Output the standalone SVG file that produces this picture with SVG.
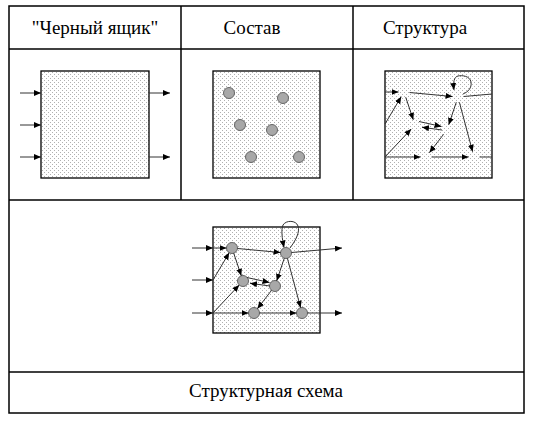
<svg xmlns="http://www.w3.org/2000/svg" width="535" height="427" viewBox="0 0 535 427">
<defs>
<pattern id="dots" width="4" height="4" patternUnits="userSpaceOnUse">
<rect width="4" height="4" fill="#ffffff"/>
<rect x="0" y="0" width="1" height="1" fill="#b0b0b0"/>
<rect x="2" y="2" width="1" height="1" fill="#b0b0b0"/>
</pattern>
<marker id="ah" markerUnits="userSpaceOnUse" markerWidth="8" markerHeight="6" refX="7" refY="3" orient="auto">
<path d="M0,0 L7,3 L0,6 Z" fill="#000"/>
</marker>
<style>
.grid{fill:none;stroke:#000;stroke-width:1.5}
.box{fill:url(#dots);stroke:#000;stroke-width:1.3}
.t{font-family:"Liberation Serif",serif;font-size:19px;fill:#000;text-anchor:middle}
.c{stroke:#333;stroke-width:1;fill:none}
.a{marker-end:url(#ah)}
.n{fill:#a8a8a8;stroke:#666;stroke-width:1}
</style>
</defs>

<g id="table">
<rect class="grid" x="9" y="6" width="515" height="407"/>
<line class="grid" x1="9" y1="49" x2="524" y2="49"/>
<line class="grid" x1="9" y1="200" x2="524" y2="200"/>
<line class="grid" x1="9" y1="372" x2="524" y2="372"/>
<line class="grid" x1="181" y1="6" x2="181" y2="200"/>
<line class="grid" x1="353" y1="6" x2="353" y2="200"/>
</g>

<g id="headers">
<text class="t" x="95" y="34">"Черный ящик"</text>
<text class="t" x="252" y="34">Состав</text>
<text class="t" x="425" y="34">Структура</text>
<text class="t" x="266" y="397">Структурная схема</text>
</g>

<g id="blackbox">
<rect class="box" x="41" y="71" width="108" height="107"/>
</g>

<g id="composition">
<rect class="box" x="213" y="71" width="107" height="107"/>
<circle class="n" cx="229" cy="93" r="5.5"/>
<circle class="n" cx="283" cy="98" r="5.5"/>
<circle class="n" cx="240" cy="125" r="5.5"/>
<circle class="n" cx="272" cy="130" r="5.5"/>
<circle class="n" cx="251" cy="157" r="5.5"/>
<circle class="n" cx="299" cy="157" r="5.5"/>
</g>

<g id="structure">
<rect class="box" x="385" y="71" width="107" height="107"/>
</g>

<g id="scheme">
<rect class="box" x="213" y="227" width="107" height="106"/>
<circle class="n" cx="232" cy="248" r="5.5"/>
<circle class="n" cx="286" cy="253" r="5.5"/>
<circle class="n" cx="243" cy="281" r="5.5"/>
<circle class="n" cx="275" cy="286" r="5.5"/>
<circle class="n" cx="254" cy="313" r="5.5"/>
<circle class="n" cx="302" cy="313" r="5.5"/>
</g>

<g id="connectors">
<!-- black box -->
<line class="c a" x1="20" y1="93" x2="41" y2="93"/>
<line class="c a" x1="20" y1="125" x2="41" y2="125"/>
<line class="c a" x1="20" y1="157" x2="41" y2="157"/>
<line class="c a" x1="149" y1="93" x2="170" y2="93"/>
<line class="c a" x1="149" y1="157" x2="170" y2="157"/>

<!-- structure -->
<line class="c a" x1="385" y1="92" x2="398.5" y2="92"/>
<line class="c a" x1="385" y1="124" x2="401.2" y2="96.7"/>
<line class="c a" x1="385" y1="157" x2="420.5" y2="157"/>
<line class="c a" x1="385" y1="157" x2="411.2" y2="129"/>
<line class="c a" x1="409.5" y1="92.5" x2="452.5" y2="96.5"/>
<line class="c" x1="463.5" y1="96.5" x2="492" y2="94"/>
<line class="c a" x1="405.7" y1="97.2" x2="413.3" y2="119.8"/>
<line class="c a" x1="419" y1="121.5" x2="441.5" y2="126.5"/>
<line class="c a" x1="442" y1="130" x2="422" y2="127.3"/>
<line class="c a" x1="456.3" y1="102.2" x2="448.7" y2="124.8"/>
<line class="c a" x1="459.4" y1="102.3" x2="472.6" y2="151.7"/>
<line class="c a" x1="443.6" y1="134.3" x2="429.4" y2="152.7"/>
<line class="c a" x1="431.5" y1="157" x2="468.5" y2="157"/>
<line class="c" x1="479.5" y1="157" x2="492" y2="157"/>
<path class="c a" d="M463,94 C468,92 472,88 471,82 C470,76 462,75 458,76 C454,77 453,82 454,90"/>

<!-- structural scheme -->
<line class="c a" x1="192" y1="248" x2="213" y2="248"/>
<line class="c a" x1="213" y1="248" x2="226.5" y2="248"/>
<line class="c a" x1="192" y1="280" x2="213" y2="280"/>
<line class="c a" x1="213" y1="280" x2="229.2" y2="252.7"/>
<line class="c a" x1="192" y1="313" x2="213" y2="313"/>
<line class="c a" x1="213" y1="313" x2="248.5" y2="313"/>
<line class="c a" x1="213" y1="313" x2="239.2" y2="285"/>
<line class="c a" x1="237.5" y1="248.5" x2="280.5" y2="252.5"/>
<line class="c a" x1="291.5" y1="252.5" x2="342" y2="248"/>
<line class="c a" x1="233.7" y1="253.2" x2="241.3" y2="275.8"/>
<line class="c a" x1="247" y1="277.5" x2="269.5" y2="282.5"/>
<line class="c a" x1="270" y1="286" x2="250" y2="283.3"/>
<line class="c a" x1="284.3" y1="258.2" x2="276.7" y2="280.8"/>
<line class="c a" x1="287.4" y1="258.3" x2="300.6" y2="307.7"/>
<line class="c a" x1="271.6" y1="290.3" x2="257.4" y2="308.7"/>
<line class="c a" x1="259.5" y1="313" x2="296.5" y2="313"/>
<line class="c a" x1="307.5" y1="313" x2="342" y2="313"/>
<path class="c a" d="M290,248 C296,240 300,232 298,226 C296,220 286,220 283,225 C281,230 282,238 284,247.5"/>
</g>
</svg>
